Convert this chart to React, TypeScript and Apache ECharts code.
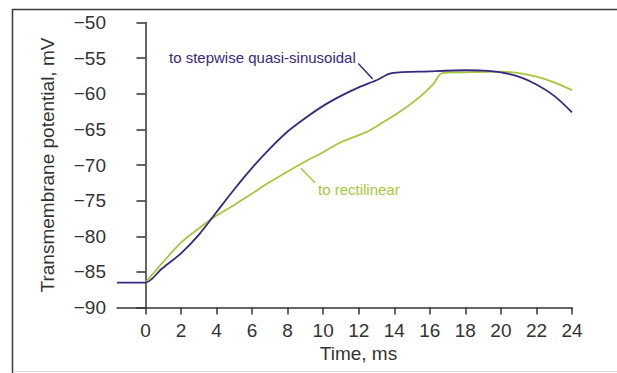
import React, { useEffect, useRef } from "react";
import * as echarts from "echarts";

const timeTicks = [0, 2, 4, 6, 8, 10, 12, 14, 16, 18, 20, 22, 24];

const stepwiseT = [-1.6, 0, 0.9, 2, 3, 4, 5, 6, 7, 8, 9, 10, 11, 12, 13, 13.85, 16, 18, 19, 20, 21, 22, 23, 24];
const stepwiseV = [-86.5, -86.5, -84.6, -82.4, -79.8, -76.6, -73.4, -70.4, -67.7, -65.3, -63.4, -61.7, -60.3, -59.1, -58.1, -57.1, -56.85, -56.7, -56.75, -57.0, -57.6, -58.7, -60.3, -62.6];

const rectT = [0, 1, 2, 3, 4, 5, 6, 7, 8, 9, 10, 11, 12.5, 13.5, 14.5, 15.5, 16.2, 16.7, 18, 20, 21, 22, 23, 24];
const rectV = [-86.5, -83.6, -80.9, -78.9, -77.1, -75.6, -74.0, -72.4, -70.9, -69.5, -68.2, -66.8, -65.3, -63.8, -62.2, -60.3, -58.6, -57.1, -57.0, -56.9, -57.1, -57.6, -58.4, -59.5];

const BLUE = "#38297d";
const GREEN = "#a5c83b";
const FONT = "'Liberation Sans', Arial, sans-serif";

export default function App() {
  const ref = useRef<HTMLDivElement>(null);
  useEffect(() => {
    if (!ref.current) return;
    const chart = echarts.init(ref.current, null, { renderer: "svg" });
    chart.setOption({
      animation: false,
      backgroundColor: "#ffffff",
      grid: { left: 117, right: 45, top: 22.5, bottom: 65.5, containLabel: false },
      xAxis: {
        type: "value",
        min: -1.6,
        max: 24,
        name: "Time, ms",
        nameLocation: "middle",
        nameGap: 36,
        nameTextStyle: { fontSize: 19, color: "#333", fontFamily: FONT, padding: [0, 0, 0, 28] },
        axisLine: { show: true, onZero: false, lineStyle: { color: "#333", width: 1.5 } },
        axisTick: { show: true, customValues: timeTicks, length: 7, lineStyle: { color: "#333", width: 1.5 } },
        axisLabel: { customValues: timeTicks, fontSize: 19, color: "#333", fontFamily: FONT, margin: 13 },
        splitLine: { show: false },
      },
      yAxis: {
        type: "value",
        min: -90,
        max: -50,
        interval: 5,
        name: "Transmembrane potential, mV",
        nameLocation: "middle",
        nameGap: 60,
        nameTextStyle: { fontSize: 19, color: "#333", fontFamily: FONT },
        axisLine: { show: true, lineStyle: { color: "#333", width: 1.5 } },
        axisTick: { show: true, length: 9, lineStyle: { color: "#333", width: 1.5 } },
        axisLabel: {
          fontSize: 19,
          color: "#333",
          fontFamily: FONT,
          margin: 11,
          formatter: (v: number) => String(v).replace("-", "\u2212"),
        },
        splitLine: { show: false },
      },
      series: [
        {
          type: "line",
          name: "to stepwise quasi-sinusoidal",
          data: stepwiseT.map((t, i) => [t, stepwiseV[i]]),
          showSymbol: false,
          smooth: 0.3,
          lineStyle: { color: BLUE, width: 1.8 },
          z: 3,
        },
        {
          type: "line",
          name: "to rectilinear",
          data: rectT.map((t, i) => [t, rectV[i]]),
          showSymbol: false,
          smooth: 0.3,
          lineStyle: { color: GREEN, width: 1.8 },
          z: 2,
        },
      ],
      graphic: [
        {
          type: "rect",
          shape: { x: 12.5, y: 9.5, width: 640, height: 400 },
          style: { fill: "none", stroke: "#3a3a3a", lineWidth: 1.5 },
          silent: true,
        },
        {
          type: "line",
          shape: { x1: 13, y1: 371.5, x2: 617, y2: 371.5 },
          style: { stroke: "#dddddd", lineWidth: 1 },
          silent: true,
        },
        {
          type: "text",
          x: 169,
          y: 57,
          style: { text: "to stepwise quasi-sinusoidal", fill: BLUE, fontSize: 15, fontFamily: FONT, verticalAlign: "middle", align: "left" },
        },
        {
          type: "line",
          shape: { x1: 358.3, y1: 63.5, x2: 372.7, y2: 79 },
          style: { stroke: BLUE, lineWidth: 1.5 },
        },
        {
          type: "text",
          x: 318,
          y: 189,
          style: { text: "to rectilinear", fill: GREEN, fontSize: 15, fontFamily: FONT, verticalAlign: "middle", align: "left" },
        },
        {
          type: "line",
          shape: { x1: 301, y1: 168.3, x2: 315, y2: 182.7 },
          style: { stroke: GREEN, lineWidth: 1.5 },
        },
      ],
    });
    return () => chart.dispose();
  }, []);
  return <div ref={ref} style={{ position: "fixed", left: 0, top: 0, width: 617, height: 373 }} />;
}
